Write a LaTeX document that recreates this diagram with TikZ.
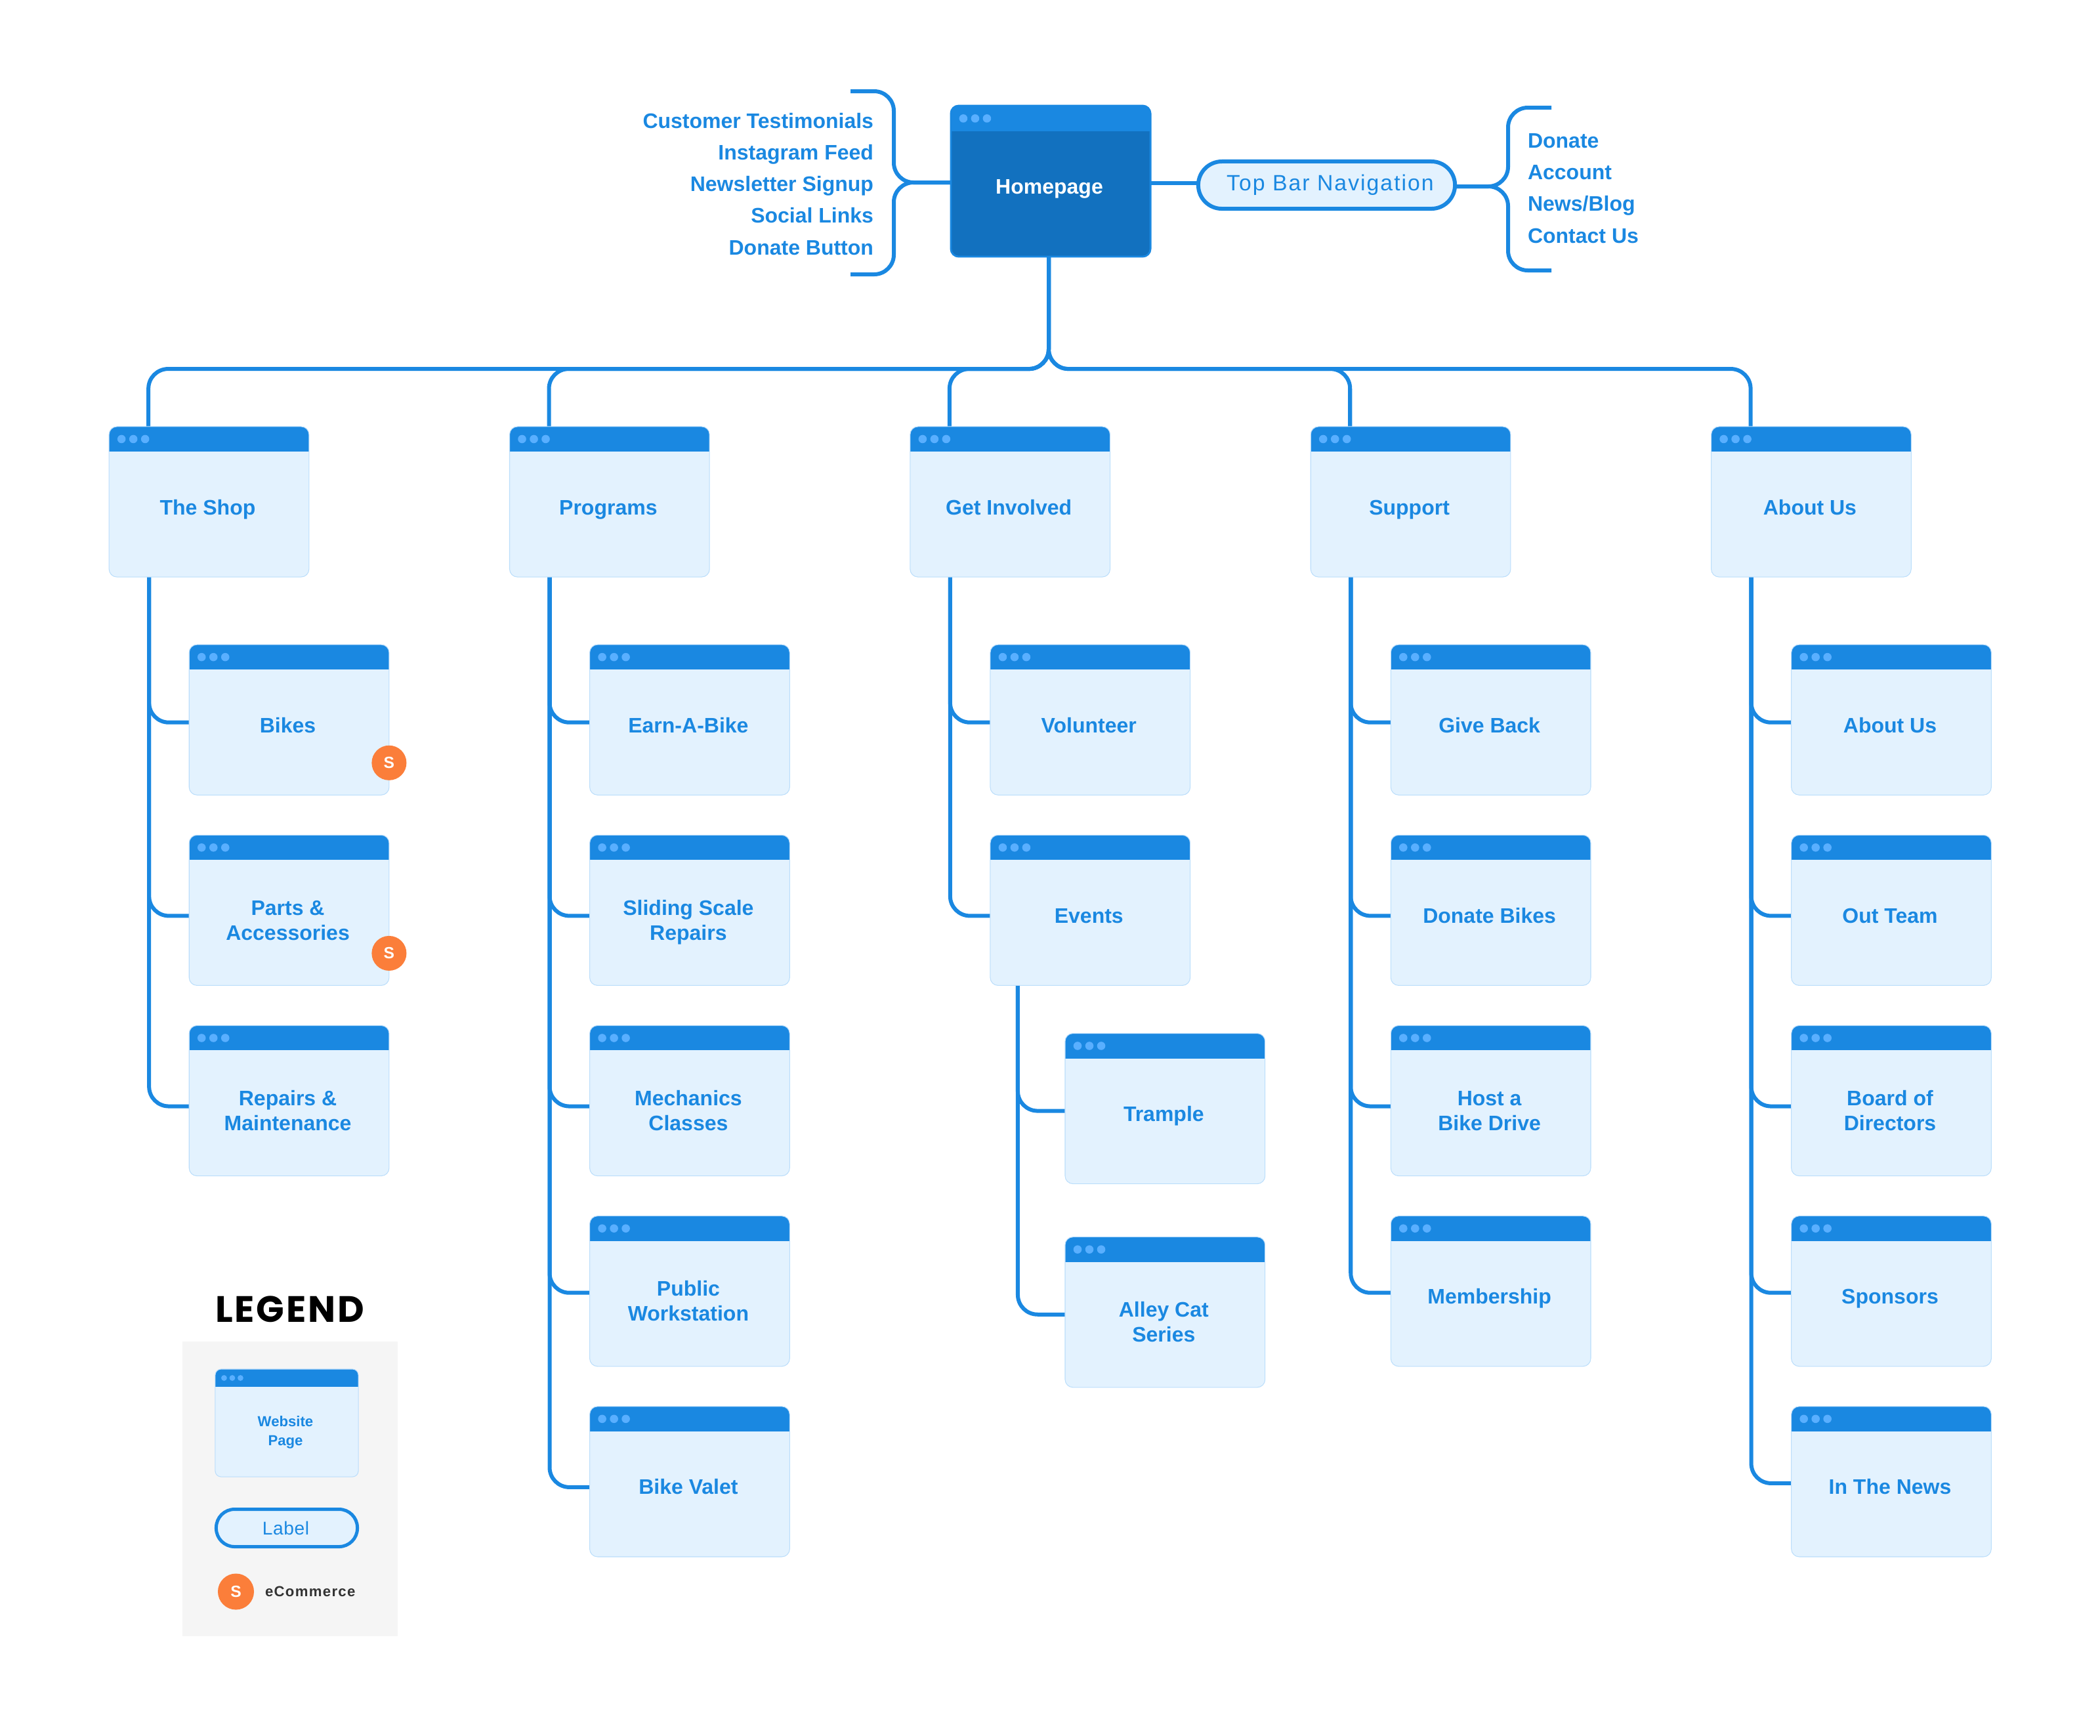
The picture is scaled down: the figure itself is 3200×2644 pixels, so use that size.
\documentclass[tikz,border=0pt]{standalone}
\usepackage{fontspec}
\setmainfont{Liberation Sans}
\newfontfamily\legendfont[LetterSpace=5]{Poppins}
\usetikzlibrary{positioning,calc,backgrounds}
\definecolor{headC}{HTML}{1A88E1}
\definecolor{bodyC}{HTML}{E3F2FE}
\definecolor{edgeC}{HTML}{BBDEFB}
\definecolor{homeC}{HTML}{1271BF}
\definecolor{dotC}{HTML}{59AFFF}
\definecolor{shopC}{HTML}{FB7E3A}
\definecolor{panelC}{HTML}{F5F5F5}
\definecolor{darkC}{HTML}{333333}

\begin{document}
\begin{tikzpicture}[
  x=0.01cm, y=-0.01cm,
  every node/.style={font=\bfseries\fontsize{9.1}{10.8}\selectfont, text=headC, outer sep=0pt},
  winbar/.style n args={3}{path picture={
      \fill[headC, sharp corners] (path picture bounding box.north west) rectangle
        ($(path picture bounding box.north east)+(0,#1)$);
      \foreach \i in {1,2,3}
        \fill[dotC, sharp corners] ($(path picture bounding box.north west)+({#2*\i+1},#1/2)$) circle (#3);
  }},
  pagebox/.style={draw=edgeC, line width=0.3pt, fill=bodyC, rounded corners=0.12cm,
                  minimum width=3.045cm, minimum height=2.29cm, inner sep=0pt, align=center,
                  winbar={38}{18}{6.3},
                  execute at begin node={\rule{0pt}{0.47cm}},
                  execute at end node={\hspace*{0.04cm}\rule[-0.08cm]{0pt}{0.08cm}}},
  pagetwo/.style={pagebox, execute at begin node={\rule{0pt}{0.99cm}}},
  homebox/.style={pagebox, draw=headC, line width=0.8pt, fill=homeC, text=white,
                  minimum width=3.04cm, minimum height=2.30cm, winbar={39}{18}{6.3}},
  pillbox/.style={draw=headC, line width=0.06cm, fill=bodyC, rounded corners=0.36cm,
                  minimum width=3.91cm, minimum height=0.72cm, inner sep=0pt,
                  font=\mdseries\fontsize{9.6}{11}\selectfont},
  listtxt/.style={inner sep=0pt},
  badge/.style={circle, fill=shopC, minimum size=0.53cm, inner sep=0pt, text=white,
                font=\bfseries\fontsize{7}{8}\selectfont},
  conn/.style={draw=headC, line width=0.06cm, rounded corners=0.3cm},
]
\useasboundingbox (0,0) rectangle (3200,2644);

% ── Homepage and top bar ──
\node[homebox] (home) at (1601,276) {Homepage};
\node[pillbox] (tnav) at (2021.5,282) {\hspace*{0.11cm}\addfontfeature{LetterSpace=6}Top Bar Navigation};

\node[listtxt, anchor=base east] (testi) at (1331,195) {Customer Testimonials};
\node[listtxt, anchor=base east] (insta) at (1331,243) {Instagram Feed};
\node[listtxt, anchor=base east] (news) at (1331,291) {Newsletter Signup};
\node[listtxt, anchor=base east] (social) at (1331,339) {Social Links};
\node[listtxt, anchor=base east] (donbtn) at (1331,388) {Donate Button};

\node[listtxt, anchor=base west] (donate) at (2328,225) {Donate};
\node[listtxt, anchor=base west] (account) at (2328,273) {Account};
\node[listtxt, anchor=base west] (blog) at (2328,321) {News/Blog};
\node[listtxt, anchor=base west] (contact) at (2328,370) {Contact Us};

\coordinate (ltop) at (1296,139);
\coordinate (lbot) at (1296,418);
\coordinate (lknee) at (1362,278);
\coordinate (rtop) at (2364,164);
\coordinate (rbot) at (2364,412);
\coordinate (rknee) at (2298,284);

% ── Column 1: The Shop ──
\node[pagebox] (shop) at (318.5,764.5) {The Shop};
\node[pagebox, below=1.03cm of shop, xshift=1.22cm] (bikes) {Bikes};
\node[pagetwo, below=0.61cm of bikes] (parts) {Parts \&\\Accessories};
\node[pagetwo, below=0.61cm of parts] (repairs) {Repairs \&\\Maintenance};
\node[badge] (badgeA) at ($(bikes.south east)+(0,-49)$) {S};
\node[badge] (badgeB) at ($(parts.south east)+(0,-49)$) {S};

% ── Column 2: Programs ──
\node[pagebox, right=3.055cm of shop] (prog) {Programs};
\node[pagebox, below=1.03cm of prog, xshift=1.22cm] (earn) {Earn-A-Bike};
\node[pagetwo, below=0.61cm of earn] (sliding) {Sliding Scale\\Repairs};
\node[pagetwo, below=0.61cm of sliding] (mech) {Mechanics\\Classes};
\node[pagetwo, below=0.61cm of mech] (public) {Public\\Workstation};
\node[pagebox, below=0.61cm of public] (valet) {Bike Valet};

% ── Column 3: Get Involved ──
\node[pagebox, right=3.055cm of prog] (invol) {Get Involved};
\node[pagebox, below=1.03cm of invol, xshift=1.22cm] (volun) {Volunteer};
\node[pagebox, below=0.61cm of volun] (events) {Events};
\node[pagebox, below=0.73cm of events, xshift=1.14cm] (trample) {Trample};
\node[pagetwo, below=0.81cm of trample] (alley) {Alley Cat\\Series};

% ── Column 4: Support ──
\node[pagebox, right=3.055cm of invol] (supp) {Support};
\node[pagebox, below=1.03cm of supp, xshift=1.22cm] (give) {Give Back};
\node[pagebox, below=0.61cm of give] (donbikes) {Donate Bikes};
\node[pagetwo, below=0.61cm of donbikes] (host) {Host a\\Bike Drive};
\node[pagebox, below=0.61cm of host] (member) {Membership};

% ── Column 5: About Us ──
\node[pagebox, right=3.055cm of supp] (about) {About Us};
\node[pagebox, below=1.03cm of about, xshift=1.22cm] (aboutus) {About Us};
\node[pagebox, below=0.61cm of aboutus] (team) {Out Team};
\node[pagetwo, below=0.61cm of team] (board) {Board of\\Directors};
\node[pagebox, below=0.61cm of board] (spons) {Sponsors};
\node[pagebox, below=0.61cm of spons] (inews) {In The News};

% ── Legend ──
\node[fill=panelC, minimum width=3.28cm, minimum height=4.49cm, inner sep=0pt] (panel) at (442,2268.5) {};
\node[inner sep=0pt, anchor=base, text=black, font=\legendfont\bfseries\fontsize{15.9}{18}\selectfont] (legend) at (441.5,2014) {LEGEND};
\node[pagebox, minimum width=2.18cm, minimum height=1.64cm, rounded corners=0.09cm, winbar={27}{12.5}{4.4},
      font=\bfseries\fontsize{6.3}{8}\selectfont,
      execute at begin node={\rule{0pt}{0.76cm}}] (lpage) at (437,2168) {Website\\Page};
\node[pillbox, minimum width=2.15cm, minimum height=0.57cm, rounded corners=0.28cm, line width=0.05cm,
      font=\mdseries\fontsize{8}{10}\selectfont] (llabel) at (437,2328) {\addfontfeature{LetterSpace=2}Label\hspace*{0.03cm}};
\node[badge, minimum size=0.55cm] (lbadge) at (359.5,2425) {S};
\node[inner sep=0pt, anchor=base west, text=darkC, font=\bfseries\fontsize{6.3}{8}\selectfont] (lecom) at (404,2432) {\addfontfeature{LetterSpace=6}eCommerce};

% ── Connectors ──
\begin{scope}[on background layer]
  \draw[conn] (ltop) -| (lknee) -- ($(home.west)+(0,2)$);
  \draw[conn] (lbot) -| (lknee) -- ($(home.west)+(0,2)$);
  \draw[conn] ($(home.east)+(0,3)$) -- ($(tnav.west)+(0,-3)$);
  \draw[conn] ($(tnav.east)+(0,2)$) -- (rknee) |- (rtop);
  \draw[conn] ($(tnav.east)+(0,2)$) -- (rknee) |- (rbot);

  \draw[conn] ($(home.south)+(-3,0)$) -- ++(0,171) -| ($(shop.north west)+(60,0)$);
  \draw[conn] ($(home.south)+(-3,0)$) -- ++(0,171) -| ($(prog.north west)+(60,0)$);
  \draw[conn] ($(home.south)+(-3,0)$) -- ++(0,171) -| ($(invol.north west)+(60,0)$);
  \draw[conn] ($(home.south)+(-3,0)$) -- ++(0,171) -| ($(supp.north west)+(60,0)$);
  \draw[conn] ($(home.south)+(-3,0)$) -- ++(0,171) -| ($(about.north west)+(60,0)$);

  \draw[conn] ($(shop.south west)+(61,0)$) |- ($(bikes.west)+(0,4)$);
  \draw[conn] ($(shop.south west)+(61,0)$) |- ($(parts.west)+(0,8.5)$);
  \draw[conn] ($(shop.south west)+(61,0)$) |- ($(repairs.west)+(0,8.5)$);

  \draw[conn] ($(prog.south west)+(61,0)$) |- ($(earn.west)+(0,4)$);
  \draw[conn] ($(prog.south west)+(61,0)$) |- ($(sliding.west)+(0,8.5)$);
  \draw[conn] ($(prog.south west)+(61,0)$) |- ($(mech.west)+(0,8.5)$);
  \draw[conn] ($(prog.south west)+(61,0)$) |- ($(public.west)+(0,2.5)$);
  \draw[conn] ($(prog.south west)+(61,0)$) |- ($(valet.west)+(0,8.5)$);

  \draw[conn] ($(invol.south west)+(61,0)$) |- ($(volun.west)+(0,4)$);
  \draw[conn] ($(invol.south west)+(61,0)$) |- ($(events.west)+(0,8.5)$);
  \draw[conn] ($(events.south west)+(42,0)$) |- ($(trample.west)+(0,3.5)$);
  \draw[conn] ($(events.south west)+(42,0)$) |- ($(alley.west)+(0,3.5)$);

  \draw[conn] ($(supp.south west)+(61,0)$) |- ($(give.west)+(0,4)$);
  \draw[conn] ($(supp.south west)+(61,0)$) |- ($(donbikes.west)+(0,8.5)$);
  \draw[conn] ($(supp.south west)+(61,0)$) |- ($(host.west)+(0,8.5)$);
  \draw[conn] ($(supp.south west)+(61,0)$) |- ($(member.west)+(0,2.5)$);

  \draw[conn] ($(about.south west)+(61,0)$) |- ($(aboutus.west)+(0,4)$);
  \draw[conn] ($(about.south west)+(61,0)$) |- ($(team.west)+(0,8.5)$);
  \draw[conn] ($(about.south west)+(61,0)$) |- ($(board.west)+(0,8.5)$);
  \draw[conn] ($(about.south west)+(61,0)$) |- ($(spons.west)+(0,2.5)$);
  \draw[conn] ($(about.south west)+(61,0)$) |- ($(inews.west)+(0,2.5)$);
\end{scope}

\end{tikzpicture}
\end{document}
